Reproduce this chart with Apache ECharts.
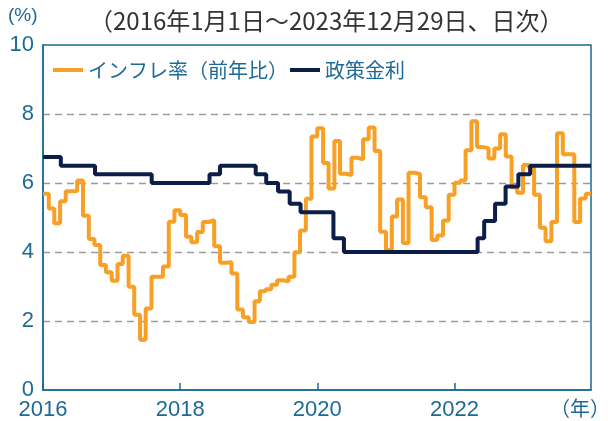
<!DOCTYPE html>
<html>
<head>
    <meta charset="utf-8">
    <title>ECharts</title>
    <script src="https://cdn.jsdelivr.net/npm/echarts@6/dist/echarts.min.js"></script>
    <style>
        body { margin: 0; }
    </style>
</head>
<body>
    <div id="main" style="width: 608px;height:421px;"></div>
    <script type="text/javascript">
        // インフレ率（前年比）、月次 2016年1月〜2023年12月
        var inflation = [
            5.69, 5.26, 4.83, 5.47, 5.76, 5.77, 6.07, 5.05, 4.38, 4.20, 3.62, 3.41,   // 2016
            3.17, 3.65, 3.89, 2.99, 2.18, 1.46, 2.36, 3.28, 3.28, 3.58, 4.88, 5.21,   // 2017
            5.07, 4.44, 4.28, 4.58, 4.87, 4.92, 4.17, 3.69, 3.70, 3.38, 2.33, 2.11,   // 2018
            1.97, 2.57, 2.86, 2.92, 3.05, 3.18, 3.15, 3.28, 3.99, 4.62, 5.54, 7.35,   // 2019
            7.59, 6.58, 5.84, 7.22, 6.27, 6.23, 6.73, 6.69, 7.27, 7.61, 6.93, 4.59,   // 2020
            4.06, 5.03, 5.52, 4.26, 6.30, 6.26, 5.59, 5.30, 4.35, 4.48, 4.91, 5.66,   // 2021
            6.01, 6.07, 6.95, 7.79, 7.04, 7.01, 6.71, 7.00, 7.41, 6.77, 5.88, 5.72,   // 2022
            6.52, 6.44, 5.66, 4.70, 4.31, 4.87, 7.44, 6.83, 6.83, 4.87, 5.55, 5.69    // 2023
        ];
        var startYear = 2016;
        var startDate = '2016-01-01';
        var endDate = '2023-12-29';

        // 政策金利（変更日）
        var policyDates = [
            '2016-01-01', '2016-04-05', '2016-10-04', '2017-08-02', '2018-06-06',
            '2018-08-01', '2019-02-07', '2019-04-04', '2019-06-06', '2019-08-07',
            '2019-10-04', '2020-03-27', '2020-05-22', '2022-05-04', '2022-06-08',
            '2022-08-05', '2022-09-30', '2022-12-07', '2023-02-08'
        ];
        var policyRates = [
            6.75, 6.50, 6.25, 6.00, 6.25,
            6.50, 6.25, 6.00, 5.75, 5.40,
            5.15, 4.40, 4.00, 4.40, 4.90,
            5.40, 5.90, 6.25, 6.50
        ];

        var tickYears = [2016, 2018, 2020, 2022];

        function ts(s) {
            var p = s.split('-');
            return Date.UTC(+p[0], +p[1] - 1, +p[2]);
        }

        var inflationData = inflation.map(function (v, i) {
            var y = startYear + Math.floor(i / 12);
            return [Date.UTC(y, i % 12, 1), v];
        });
        inflationData.push([ts(endDate), inflation[inflation.length - 1]]);

        var policyData = policyDates.map(function (d, i) { return [ts(d), policyRates[i]]; });
        policyData.push([ts(endDate), policyRates[policyRates.length - 1]]);

        var tickValues = tickYears.map(function (y) { return Date.UTC(y, 0, 1); });

        var teal = '#1d6a94';
        var fontFamily = 'Liberation Sans, Noto Sans CJK JP, sans-serif';

        var myChart = echarts.init(document.getElementById('main'));

        var option = {
            animation: false,
            textStyle: { fontFamily: fontFamily },
            title: {
                text: '（2016年1月1日～2023年12月29日、日次）',
                left: 84,
                top: 4,
                textStyle: { color: '#333333', fontSize: 24, fontWeight: 'normal', fontFamily: 'Noto Sans CJK JP' }
            },
            legend: {
                left: 48,
                top: 55,
                itemWidth: 30,
                itemHeight: 4,
                itemGap: 2,
                icon: 'rect',
                textStyle: { color: teal, fontSize: 20, fontFamily: 'Noto Sans CJK JP' },
                data: ['インフレ率（前年比）', '政策金利']
            },
            graphic: [
                { type: 'text', left: 8, top: 6, style: { text: '(%)', fill: teal, fontSize: 19, fontFamily: fontFamily } },
                { type: 'text', right: -2, top: 398, style: { text: '（年）', fill: teal, fontSize: 20, fontFamily: 'Noto Sans CJK JP' } }
            ],
            grid: {
                left: 43, right: 17, top: 45, bottom: 31,
                show: true,
                borderColor: teal,
                borderWidth: 1.5
            },
            xAxis: {
                type: 'value',
                min: ts(startDate),
                max: ts(endDate),
                axisLine: { show: true, lineStyle: { color: teal, width: 1.5 } },
                axisTick: {
                    show: true, inside: true, length: 7,
                    customValues: tickValues,
                    lineStyle: { color: teal, width: 1.5 }
                },
                axisLabel: {
                    customValues: tickValues,
                    color: teal,
                    fontSize: 22,
                    margin: 9,
                    formatter: function (val) { return new Date(val).getUTCFullYear() + ''; }
                },
                splitLine: { show: false }
            },
            yAxis: {
                type: 'value',
                min: 0,
                max: 10,
                interval: 2,
                axisLine: { show: true, lineStyle: { color: teal, width: 1.5 } },
                axisTick: { show: false },
                axisLabel: { color: teal, fontSize: 22, margin: 9 },
                splitLine: {
                    show: true,
                    showMinLine: false,
                    showMaxLine: false,
                    lineStyle: { color: '#9a9a9a', type: [7, 5], width: 1.3 }
                }
            },
            series: [
                {
                    name: 'インフレ率（前年比）',
                    type: 'line',
                    step: 'end',
                    symbol: 'none',
                    color: '#f8a025',
                    lineStyle: { width: 4, color: '#f8a025' },
                    data: inflationData
                },
                {
                    name: '政策金利',
                    type: 'line',
                    step: 'end',
                    symbol: 'none',
                    color: '#0b1d48',
                    lineStyle: { width: 4, color: '#0b1d48' },
                    data: policyData
                }
            ]
        };

        myChart.setOption(option);
    </script>
</body>
</html>
